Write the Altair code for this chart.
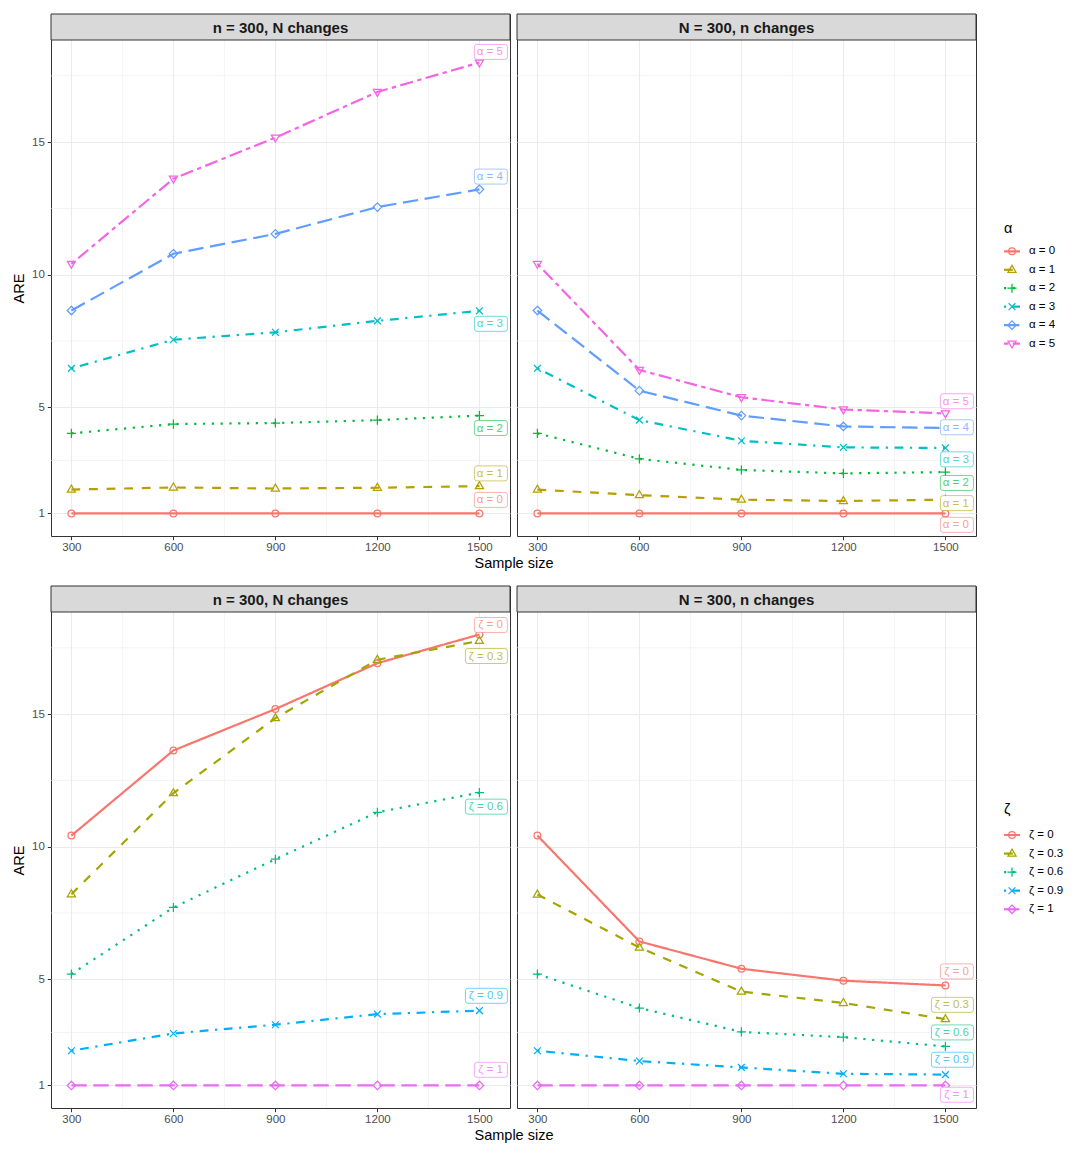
import altair as alt
import pandas as pd

# ---------------- data ----------------
x_vals = [300, 600, 900, 1200, 1500]
x_ticks = [300, 600, 900, 1200, 1500]
x_minor = [450, 750, 1050, 1350]
y_ticks = [1, 5, 10, 15]
y_minor = [3, 7.5, 12.5, 17.5]

panel_titles = ["n = 300, N changes", "N = 300, n changes"]

alpha_labels = ["α = 0", "α = 1", "α = 2", "α = 3", "α = 4", "α = 5"]
alpha_a0_N = [1, 1, 1, 1, 1]
alpha_a1_N = [1.90, 1.98, 1.94, 1.97, 2.03]
alpha_a2_N = [4.02, 4.37, 4.41, 4.52, 4.69]
alpha_a3_N = [6.47, 7.55, 7.83, 8.26, 8.64]
alpha_a4_N = [8.65, 10.79, 11.54, 12.55, 13.22]
alpha_a5_N = [10.41, 13.62, 15.17, 16.89, 18.0]
alpha_a0_n = [1, 1, 1, 1, 1]
alpha_a1_n = [1.90, 1.69, 1.52, 1.47, 1.52]
alpha_a2_n = [4.02, 3.06, 2.64, 2.51, 2.56]
alpha_a3_n = [6.47, 4.52, 3.74, 3.49, 3.47]
alpha_a4_n = [8.65, 5.63, 4.69, 4.28, 4.22]
alpha_a5_n = [10.41, 6.41, 5.38, 4.92, 4.77]
alpha_label_y_N = [1.51, 2.51, 4.22, 8.15, 13.7, 18.4]
alpha_label_y_n = [0.57, 1.39, 2.15, 3.04, 4.25, 5.23]

zeta_labels = ["ζ = 0", "ζ = 0.3", "ζ = 0.6", "ζ = 0.9", "ζ = 1"]
zeta_z0_N = [10.42, 13.63, 15.19, 16.92, 18.0]
zeta_z03_N = [8.21, 12.02, 14.85, 17.05, 17.76]
zeta_z06_N = [5.2, 7.71, 9.53, 11.3, 12.04]
zeta_z09_N = [2.31, 2.96, 3.29, 3.69, 3.82]
zeta_z1_N = [1, 1, 1, 1, 1]
zeta_z0_n = [10.42, 6.43, 5.40, 4.95, 4.77]
zeta_z03_n = [8.2, 6.2, 4.54, 4.11, 3.5]
zeta_z06_n = [5.2, 3.92, 3.02, 2.82, 2.47]
zeta_z09_n = [2.31, 1.92, 1.68, 1.44, 1.41]
zeta_z1_n = [1, 1, 1, 1, 1]
zeta_label_y_N = [18.36, 17.19, 11.51, 4.38, 1.59]
zeta_label_y_n = [5.3, 4.04, 3.0, 1.97, 0.65]

# ---------------- styles ----------------
alpha_colors = ["#F8766D", "#B79F00", "#00BA38", "#00BFC4", "#619CFF", "#F564E3"]
zeta_colors = ["#F8766D", "#A3A500", "#00BF7D", "#00B0F6", "#E76BF3"]
dash_types = [[1, 0], [8.8, 8.8], [2.2, 6.6], [2.2, 6.6, 8.8, 6.6], [15.4, 6.6], [4.4, 4.4, 13.2, 4.4]]
shape_paths = [
    "circle",
    "M0,-1.3L1.2,0.75L-1.2,0.75Z",
    "M-1.35,0L1.35,0M0,-1.35L0,1.35",
    "M-1,-1L1,1M-1,1L1,-1",
    "M0,-1.25L1.25,0L0,1.25L-1.25,0Z",
    "M0,1.3L1.2,-0.75L-1.2,-0.75Z",
]

FONT = "Liberation Sans"
W, H, S = 459, 522, 26
X_DOM = [240, 1590]
Y_DOM = [0.15, 18.85]
GRID = "#EBEBEB"
LW = 2.2
PT = 46


def box_path(w, right=28.0, h=15.0, r=2.5):
    x0, x1 = right - w, right
    y0, y1 = -h / 2, h / 2
    return (f"M{x0 + r},{y0}L{x1 - r},{y0}Q{x1},{y0} {x1},{y0 + r}"
            f"L{x1},{y1 - r}Q{x1},{y1} {x1 - r},{y1}L{x0 + r},{y1}"
            f"Q{x0},{y1} {x0},{y1 - r}L{x0},{y0 + r}Q{x0},{y0} {x0 + r},{y0}Z")


def panel(labels, colors, series, lab_ys, title, left):
    n = len(labels)
    df = pd.DataFrame([{"x": x, "y": v, "s": lab}
                       for lab, vals in zip(labels, series)
                       for x, v in zip(x_vals, vals)])
    ldf = pd.DataFrame({"s": labels, "x": [x_vals[-1]] * n, "y": lab_ys,
                        "w": [round(4.6 * len(t) + 10) for t in labels]})
    xsc = alt.Scale(domain=X_DOM, nice=False, zero=False)
    ysc = alt.Scale(domain=Y_DOM, range=[H, S], nice=False, zero=False)
    if left:
        xaxis = alt.Axis(values=x_ticks, format="d", title="Sample size",
                         titleX=(2 * W + 7) / 2)
        yaxis = alt.Axis(values=y_ticks, format="d", title="ARE")
    else:
        xaxis = alt.Axis(values=x_ticks, format="d", title=None)
        yaxis = alt.Axis(values=y_ticks, format="d", title=None, labels=False, ticks=False)

    def X(f):
        return alt.X(f"{f}:Q", scale=xsc, axis=xaxis)

    def Y(f):
        return alt.Y(f"{f}:Q", scale=ysc, axis=yaxis)

    color = alt.Color("s:N", scale=alt.Scale(domain=labels, range=colors), legend=None)
    stroke = alt.Stroke("s:N", scale=alt.Scale(domain=labels, range=colors), legend=None)
    dash = alt.StrokeDash("s:N", scale=alt.Scale(domain=labels, range=dash_types[:n]), legend=None)
    shape = alt.Shape("s:N", scale=alt.Scale(domain=labels, range=shape_paths[:n]), legend=None)

    layers = []
    layers.append(alt.Chart(pd.DataFrame({"x": x_minor})).mark_rule(
        color=GRID, strokeWidth=0.6).encode(x=X("x")))
    layers.append(alt.Chart(pd.DataFrame({"y": y_minor})).mark_rule(
        color=GRID, strokeWidth=0.6).encode(y=Y("y")))
    layers.append(alt.Chart(df).mark_line(strokeWidth=LW).encode(
        x=X("x"), y=Y("y"), color=color, strokeDash=dash))
    layers.append(alt.Chart(df).mark_point(filled=False, size=PT, strokeWidth=1.25, opacity=1).encode(
        x=X("x"), y=Y("y"), color=color, shape=shape))
    for w in sorted(set(ldf["w"])):
        sub = ldf[ldf["w"] == w]
        layers.append(alt.Chart(sub).mark_point(
            shape=box_path(w), size=4, filled=True, fill="white", fillOpacity=1,
            strokeWidth=0.8, strokeOpacity=0.7, opacity=1).encode(
            x=X("x"), y=Y("y"), stroke=stroke))
    layers.append(alt.Chart(ldf).mark_text(
        align="right", baseline="middle", dx=23.5, dy=0.5, fontSize=11.5, font=FONT, opacity=0.7).encode(
        x=X("x"), y=Y("y"), text="s:N", color=color))
    sdf = pd.DataFrame({"t": [title]})
    layers.append(alt.Chart(sdf).mark_rect(fill="#D9D9D9", stroke="#333333", strokeWidth=1).encode(
        x=alt.value(0), x2=alt.value(W), y=alt.value(0), y2=alt.value(S)))
    layers.append(alt.Chart(sdf).mark_text(
        align="center", baseline="middle", fontSize=15, fontWeight="bold", font=FONT, color="#1A1A1A").encode(
        x=alt.value(W / 2), y=alt.value(S / 2 + 0.5), text="t:N"))
    return alt.layer(*layers).properties(width=W, height=H)


def legend(labels, colors, title, y_title, y_range):
    n = len(labels)
    ldf = pd.DataFrame({"s": labels})
    Yl = alt.Y("s:N", scale=alt.Scale(type="point", domain=labels, range=y_range, padding=0), axis=None)
    color = alt.Color("s:N", scale=alt.Scale(domain=labels, range=colors), legend=None)
    dash = alt.StrokeDash("s:N", scale=alt.Scale(domain=labels, range=dash_types[:n]), legend=None)
    shape = alt.Shape("s:N", scale=alt.Scale(domain=labels, range=shape_paths[:n]), legend=None)
    seg = alt.Chart(ldf).mark_rule(strokeWidth=LW).encode(
        x=alt.value(21), x2=alt.value(37), y=Yl, color=color, strokeDash=dash)
    pts = alt.Chart(ldf).mark_point(filled=False, size=PT, strokeWidth=1.25, opacity=1).encode(
        x=alt.value(29), y=Yl, color=color, shape=shape)
    txt = alt.Chart(ldf).mark_text(align="left", baseline="middle", fontSize=11.5, font=FONT,
                                   color="black").encode(x=alt.value(46), y=Yl, text="s:N")
    ttl = alt.Chart(pd.DataFrame({"t": [title]})).mark_text(
        align="left", baseline="middle", fontSize=14.5, font=FONT, color="black").encode(
        x=alt.value(21), y=alt.value(y_title), text="t:N")
    return alt.layer(seg, pts, txt, ttl).properties(
        width=70, height=H, view=alt.ViewBackground(stroke=None))


alpha_N = [alpha_a0_N, alpha_a1_N, alpha_a2_N, alpha_a3_N, alpha_a4_N, alpha_a5_N]
alpha_n = [alpha_a0_n, alpha_a1_n, alpha_a2_n, alpha_a3_n, alpha_a4_n, alpha_a5_n]
zeta_N = [zeta_z0_N, zeta_z03_N, zeta_z06_N, zeta_z09_N, zeta_z1_N]
zeta_n = [zeta_z0_n, zeta_z03_n, zeta_z06_n, zeta_z09_n, zeta_z1_n]

row1 = alt.hconcat(
    panel(alpha_labels, alpha_colors, alpha_N, alpha_label_y_N, panel_titles[0], True),
    panel(alpha_labels, alpha_colors, alpha_n, alpha_label_y_n, panel_titles[1], False),
    legend(alpha_labels, alpha_colors, "α", 214.6, [237.3, 329.6]),
    spacing=7, bounds="flush")
row2 = alt.hconcat(
    panel(zeta_labels, zeta_colors, zeta_N, zeta_label_y_N, panel_titles[0], True),
    panel(zeta_labels, zeta_colors, zeta_n, zeta_label_y_n, panel_titles[1], False),
    legend(zeta_labels, zeta_colors, "ζ", 224, [249, 323.3]),
    spacing=7, bounds="flush")

chart = alt.vconcat(row1, row2, spacing=14).resolve_scale(
    color="independent", stroke="independent", shape="independent", strokeDash="independent"
).properties(
    padding={"left": 3, "top": 5, "right": 5, "bottom": 5}
).configure(font=FONT).configure_view(
    stroke="#333333", strokeWidth=1
).configure_axis(
    grid=True, gridColor=GRID, gridWidth=1.1, domain=False,
    tickColor="#333333", tickSize=3.7, tickWidth=1,
    labelFont=FONT, labelFontSize=11.5, labelColor="#4D4D4D",
    titleFont=FONT, titleFontSize=14.5, titleFontWeight="normal", titleColor="black"
).configure_axisX(labelPadding=2, titlePadding=3).configure_axisY(labelPadding=3, titlePadding=5)

chart.save("out.html", embed_options={"renderer": "svg", "actions": False})
